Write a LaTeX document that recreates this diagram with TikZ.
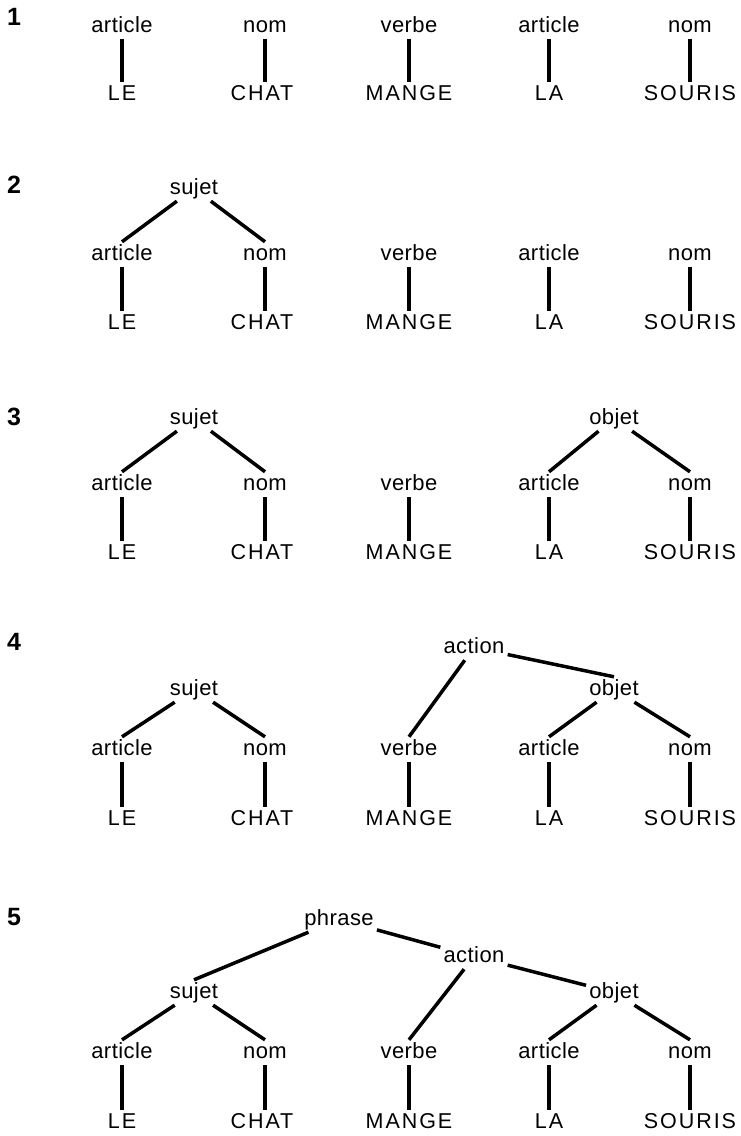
\documentclass[tikz,border=0pt]{standalone}
\usepackage{fontspec}
\setmainfont{Liberation Sans}
\newfontfamily\labfont[LetterSpace=2]{Liberation Sans}
\newfontfamily\wrdfont[LetterSpace=9]{Liberation Sans}
\tikzset{
  lab/.style={font=\labfont\fontsize{22}{26}\selectfont, text height=15pt, text depth=4pt,
              inner xsep=3pt, inner ysep=3pt, anchor=base},
  wrd/.style={font=\wrdfont\fontsize{21.5}{25}\selectfont, text height=15pt, text depth=0pt,
              inner xsep=2pt, inner ysep=3pt, anchor=base},
  num/.style={font=\bfseries\fontsize{25}{28}\selectfont, anchor=base west, inner sep=0pt},
  link/.style={line width=3.5pt}
}
\begin{document}
\begin{tikzpicture}[x=1pt,y=-1pt]
\useasboundingbox (0,0) rectangle (741,1136);

% step numbers
\node[num] (k1) at (7,25)  {1};
\node[num] (k2) at (7,193) {2};
\node[num] (k3) at (7,425) {3};
\node[num] (k4) at (7,650) {4};
\node[num] (k5) at (7,925) {5};

% word classes and the words of the sentence, repeated in every step
\foreach \p/\lb/\wb in {1/32/100, 2/260/329, 3/490/559, 4/755/825, 5/1058/1128}{
  \node[lab] (la\p) at (122,\lb) {article};
  \node[lab] (ln\p) at (265,\lb) {nom};
  \node[lab] (lv\p) at (409,\lb) {verbe};
  \node[lab] (lb\p) at (549,\lb) {article};
  \node[lab] (lm\p) at (690,\lb) {nom};
  \node[wrd] (wa\p) at (122,\wb) {LE};
  \node[wrd] (wn\p) at (262,\wb) {CHAT};
  \node[wrd] (wv\p) at (409,\wb) {MANGE};
  \node[wrd] (wb\p) at (549,\wb) {LA};
  \node[wrd] (wm\p) at (690,\wb) {SOURIS};
  \draw[link] (la\p) -- (la\p |- wa\p.north);
  \draw[link] (ln\p) -- (ln\p |- wn\p.north);
  \draw[link] (lv\p) -- (lv\p |- wv\p.north);
  \draw[link] (lb\p) -- (lb\p |- wb\p.north);
  \draw[link] (lm\p) -- (lm\p |- wm\p.north);
}

% step 2
\node[lab] (s2) at (194,194) {sujet};
\draw[link] (s2) -- (la2.north);
\draw[link] (s2) -- (ln2.north);

% step 3
\node[lab] (s3) at (194,424) {sujet};
\node[lab] (o3) at (614,424) {objet};
\draw[link] (s3) -- (la3.north);
\draw[link] (s3) -- (ln3.north);
\draw[link] (o3) -- (lb3.north);
\draw[link] (o3) -- (lm3.north);

% step 4
\node[lab] (s4) at (194,695) {sujet};
\node[lab] (o4) at (614,695) {objet};
\node[lab] (c4) at (474,653) {action};
\draw[link] (s4) -- (la4.north);
\draw[link] (s4) -- (ln4.north);
\draw[link] (o4) -- (lb4.north);
\draw[link] (o4) -- (lm4.north);
\draw[link] (c4) -- (lv4.north);
\draw[link] (c4) -- (o4.north);

% step 5
\node[lab] (s5) at (194,998) {sujet};
\node[lab] (o5) at (614,998) {objet};
\node[lab] (c5) at (474,962) {action};
\node[lab] (f5) at (339,925) {phrase};
\draw[link] (s5) -- (la5.north);
\draw[link] (s5) -- (ln5.north);
\draw[link] (o5) -- (lb5.north);
\draw[link] (o5) -- (lm5.north);
\draw[link] (c5) -- (lv5.north);
\draw[link] (c5) -- (o5);
\draw[link] (f5) -- (s5.north);
\draw[link] (f5) -- (c5);
\end{tikzpicture}
\end{document}
